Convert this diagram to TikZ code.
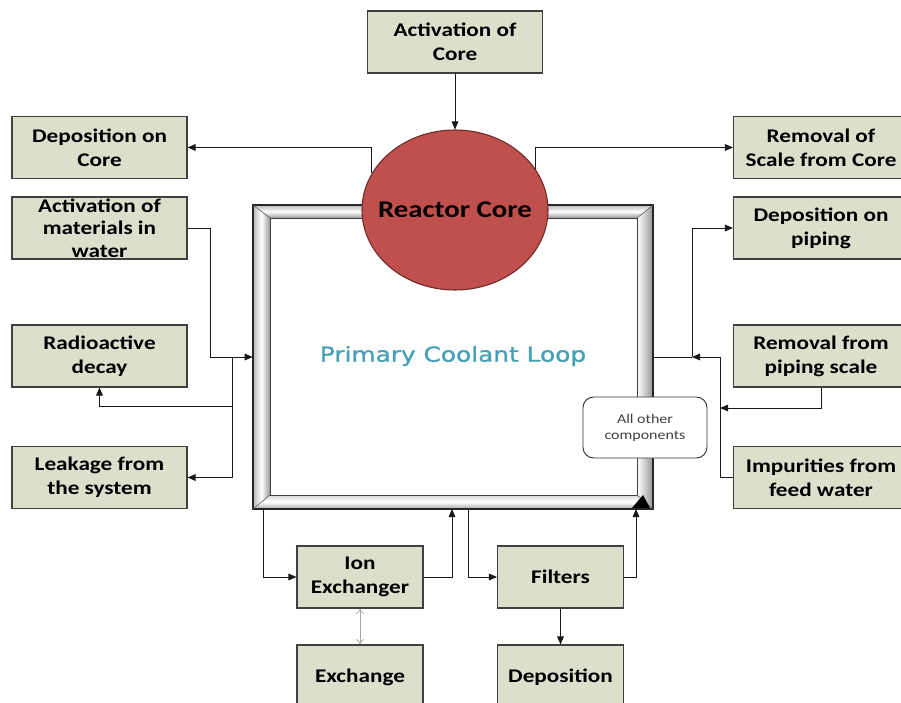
\documentclass[tikz,border=0pt]{standalone}
\usepackage{fontspec}
\setmainfont{Carlito}[FakeStretch=1.2]
\newfontfamily\loopfont{DejaVu Sans}[FakeStretch=1.2,FakeBold=1.2]
\usetikzlibrary{shapes.geometric,arrows.meta}
\definecolor{boxfill}{RGB}{220,223,203}
\definecolor{boxline}{RGB}{64,64,64}
\definecolor{corefill}{RGB}{192,80,77}
\definecolor{coreline}{RGB}{110,40,38}
\definecolor{looptext}{RGB}{70,160,182}
\begin{document}
\begin{tikzpicture}[x=0.75pt,y=-0.75pt,
  box/.style={draw=boxline, fill=boxfill, line width=0.8pt, inner sep=0pt, align=center,
    font=\fontsize{14.5}{18}\selectfont\bfseries, minimum width=131.25pt, minimum height=46.5pt},
  sbox/.style={box, minimum width=94.5pt},
  conn/.style={line width=0.65pt, draw=black!90},
  arr/.style={conn, -{Triangle[length=6pt,width=5pt]}}]
\useasboundingbox (0,0) rectangle (901,703);

% ---------- frame (primary coolant loop) ----------
\node[minimum width=300pt, minimum height=228pt, inner sep=0pt] (loop) at (453,357) {};
\shade[top color=gray!55, bottom color=gray!80, middle color=white]
  (253,205) -- (653,205) -- (637,218) -- (270,218) -- cycle;
\shade[left color=gray!55, right color=gray!80, middle color=white]
  (253,205) -- (270,218) -- (270,495) -- (253,509) -- cycle;
\shade[left color=white, right color=gray!85, middle color=gray!40]
  (653,205) -- (653,509) -- (637,495) -- (637,218) -- cycle;
\shade[top color=gray!30, bottom color=gray!70, middle color=white]
  (253,509) -- (270,495) -- (637,495) -- (653,509) -- cycle;
\draw[black!85, line width=0.8pt] (253,205) rectangle (653,509);
\draw[black!75, line width=0.7pt] (270,218) rectangle (637,495);
\draw[black!60, line width=0.5pt] (253,205) -- (270,218) (653,205) -- (637,218)
  (253,509) -- (270,495) (653,509) -- (637,495);
\fill[black] (632,508) -- (650,508) -- (643,495) -- cycle;

\node[font=\loopfont\fontsize{15.5}{18}\selectfont, text=looptext] (looplabel) at (453,356) {Primary Coolant Loop};

% ---------- reactor core ----------
\node[ellipse, draw=coreline, line width=0.8pt, fill=corefill, minimum width=139.5pt,
  minimum height=120pt, inner sep=0pt] (core) at (455,210) {};
\node[font=\fontsize{18}{20}\selectfont\bfseries] (coretext) at (455,210) {Reactor Core};

% ---------- boxes ----------
\node[box] (actcore) at (455,42) {Activation of\\Core};
\node[box] (depcore) at (99.5,147.5) {Deposition on\\Core};
\node[box, font=\fontsize{14.5}{17}\selectfont\bfseries] (actmat) at (99.5,228) {Activation of\\materials in\\water};
\node[box] (radio) at (99.5,356) {Radioactive\\decay};
\node[box] (leak) at (99.5,477.5) {Leakage from\\the system};
\node[box] (remcore) at (821,147.5) {Removal of\\Scale from Core};
\node[box] (deppipe) at (821,228) {Deposition on\\piping};
\node[box] (rempipe) at (821,356) {Removal from\\piping scale};
\node[box] (imp) at (821,477.5) {Impurities from\\feed water};
\node[sbox] (ionx) at (360,577) {Ion\\Exchanger};
\node[sbox] (filt) at (560.5,577) {Filters};
\node[sbox, minimum height=48.75pt] (exch) at (360,677.5) {Exchange};
\node[sbox, minimum height=48.75pt] (depo) at (560.5,677.5) {Deposition};

\node[draw=black!80, line width=0.7pt, fill=white, rounded corners=8pt, minimum width=93pt,
  minimum height=45.75pt, align=center, inner sep=0pt, text=black!75,
  font=\fontsize{10}{12}\selectfont] (other) at (645,427.5) {All other\\components};

% ---------- coordinates ----------
\coordinate (jl) at (232,357);
\coordinate (jl2) at (232,406);
\coordinate (jr) at (692,357);
\coordinate (jr2) at (720,357);
\coordinate (jr3) at (720,408);
\coordinate (b1) at (263,509);
\coordinate (b2) at (452,509);
\coordinate (b3) at (468,509);
\coordinate (b4) at (636,509);

% ---------- connectors ----------
\draw[arr] (actcore.south) -- (core.north);
\draw[arr] (core.156) |- (depcore.east);
\draw[arr] (core.27) |- (remcore.west);

\draw[arr] (actmat.east) -- ++(23,0) |- (loop.west);
\draw[conn] (jl) -- (jl2);
\draw[arr] (jl2) -| (radio.south);
\draw[arr] (jl2) |- (leak.east);

\draw[conn] (loop.east) -- (jr);
\draw[arr] (jr) |- (deppipe.west);
\draw[arr] (imp.west) -| (jr2) -- (jr);
\draw[arr] (rempipe.south) |- (jr3);

\draw[arr] (b1) |- (ionx.west);
\draw[arr] (ionx.east) -| (b2);
\draw[arr] (b3) |- (filt.west);
\draw[arr] (filt.east) -| (b4);
\draw[gray!70, line width=0.6pt, {To[length=4pt,width=6pt]}-{To[length=4pt,width=6pt]}] (ionx.south) -- (exch.north);
\draw[arr] (filt.south) -- (depo.north);
\end{tikzpicture}
\end{document}
